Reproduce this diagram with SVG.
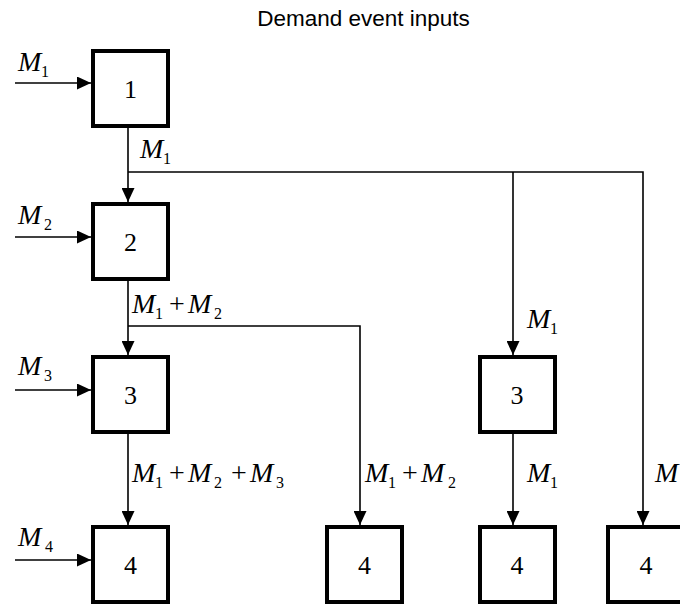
<svg xmlns="http://www.w3.org/2000/svg" width="680" height="605" viewBox="0 0 680 605">
<style>
.box{fill:#fff;stroke:#000;stroke-width:4}
.num{font-family:"Liberation Serif","Times New Roman",serif;font-size:26px;text-anchor:middle;fill:#000}
.m{font-family:"Liberation Serif","Times New Roman",serif;font-size:28px;font-style:italic;fill:#000}
.s{font-size:16px;font-style:normal}
.op{font-style:normal}
.title{font-family:"Liberation Sans",Arial,sans-serif;font-size:22.5px;text-anchor:middle;fill:#000}
.c{fill:none;stroke:#000;stroke-width:1.6;marker-end:url(#ah)}
</style>
<defs>
<marker id="ah" markerUnits="userSpaceOnUse" markerWidth="14" markerHeight="13" refX="14" refY="6.5" orient="auto">
<path d="M0,0 L14,6.5 L0,13 z" fill="#000"/>
</marker>
</defs>
<rect width="680" height="605" fill="#fff"/>
<text class="title" x="363.5" y="26">Demand event inputs</text>

<g id="connectors">
<path class="c" d="M15,83 H91"/>
<path class="c" d="M15,237 H91"/>
<path class="c" d="M15,390 H91"/>
<path class="c" d="M15,560 H91"/>
<path class="c" d="M128,128 V202"/>
<path class="c" d="M128,281 V355"/>
<path class="c" d="M128,434 V525"/>
<path class="c" d="M128,172 H643 V525"/>
<path class="c" d="M513,172 V355"/>
<path class="c" d="M128,326 H360 V525"/>
<path class="c" d="M513,434 V525"/>
</g>

<g id="labels">
<text class="m" x="18" y="71">M<tspan class="s" x="41" y="77">1</tspan></text>
<text class="m" x="18" y="224">M<tspan class="s" x="44" y="230">2</tspan></text>
<text class="m" x="18" y="375">M<tspan class="s" x="44" y="381">3</tspan></text>
<text class="m" x="18" y="546">M<tspan class="s" x="45" y="552">4</tspan></text>
<text class="m" x="140" y="158">M<tspan class="s" x="163" y="164">1</tspan></text>
<text class="m" x="132" y="313">M<tspan class="s" x="155" y="319">1</tspan><tspan class="op" x="169" y="313">+</tspan><tspan x="188" y="313">M</tspan><tspan class="s" x="214" y="319">2</tspan></text>
<text class="m" x="132" y="482">M<tspan class="s" x="155" y="488">1</tspan><tspan class="op" x="169" y="482">+</tspan><tspan x="188" y="482">M</tspan><tspan class="s" x="214" y="488">2</tspan><tspan class="op" x="231" y="482">+</tspan><tspan x="250" y="482">M</tspan><tspan class="s" x="276" y="488">3</tspan></text>
<text class="m" x="365" y="482">M<tspan class="s" x="388" y="488">1</tspan><tspan class="op" x="402" y="482">+</tspan><tspan x="421" y="482">M</tspan><tspan class="s" x="448" y="488">2</tspan></text>
<text class="m" x="527" y="328">M<tspan class="s" x="550" y="334">1</tspan></text>
<text class="m" x="527" y="482">M<tspan class="s" x="550" y="488">1</tspan></text>
<text class="m" x="655" y="482">M</text>
</g>

<g id="n1"><rect class="box" x="93" y="51" width="75" height="75"/><text class="num" x="130.5" y="98">1</text></g>
<g id="n2"><rect class="box" x="93" y="204" width="75" height="75"/><text class="num" x="130.5" y="251">2</text></g>
<g id="n3a"><rect class="box" x="93" y="357" width="75" height="75"/><text class="num" x="130.5" y="404">3</text></g>
<g id="n4a"><rect class="box" x="93" y="527" width="75" height="75"/><text class="num" x="130.5" y="574">4</text></g>
<g id="n4b"><rect class="box" x="327" y="527" width="75" height="75"/><text class="num" x="364.5" y="574">4</text></g>
<g id="n3b"><rect class="box" x="480" y="357" width="75" height="75"/><text class="num" x="517" y="404">3</text></g>
<g id="n4c"><rect class="box" x="480" y="527" width="75" height="75"/><text class="num" x="517" y="574">4</text></g>
<g id="n4d"><rect class="box" x="608" y="527" width="75" height="75"/><text class="num" x="646" y="574">4</text></g>
</svg>
